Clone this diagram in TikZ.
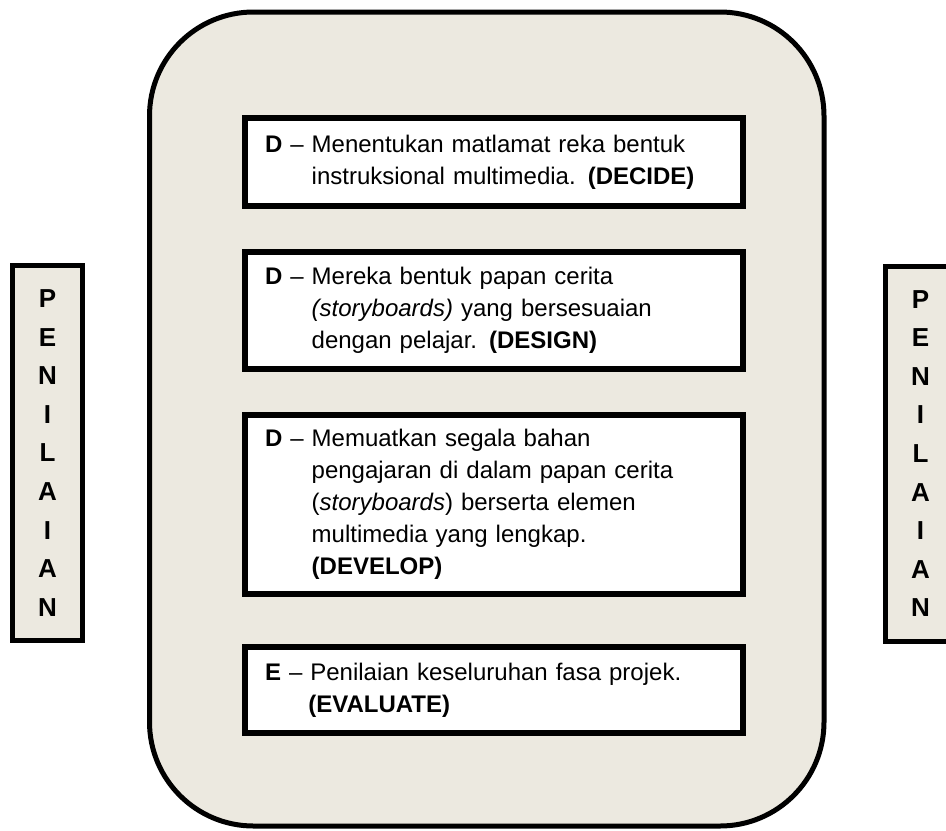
\documentclass[tikz,border=0pt]{standalone}
\usepackage{fontspec}
\setmainfont{Liberation Sans}
\definecolor{panelbeige}{HTML}{ECE9E0}

\begin{document}
\begin{tikzpicture}[x=0.5pt,y=-0.5pt,
	stepbox/.style={draw,line width=3pt,fill=white,anchor=north west,minimum width=249pt,inner xsep=10pt,text width=229pt,align=left,font=\fontsize{12}{16}\selectfont},
	sidebox/.style={draw,line width=2.5pt,fill=panelbeige,minimum width=35pt,minimum height=187.5pt,inner sep=0pt,align=center,font=\bfseries\fontsize{13}{19.3}\selectfont}]
\useasboundingbox (0,0) rectangle (946,830);
\clip (0,0) rectangle (946,830);
% big panel
\draw[line width=2.5pt,fill=panelbeige,rounded corners=52pt] (149.5,12) rectangle (824,826);
\node[stepbox,minimum height=44pt] (decide) at (242,115) {\begin{tabular}{@{}l@{ }l@{}}
	\textbf{D} -- & Menentukan matlamat reka bentuk\\
	 & instruksional multimedia. \textbf{(DECIDE)}
	\end{tabular}};
\node[stepbox,minimum height=58.5pt] (design) at (242,249) {\begin{tabular}{@{}l@{ }l@{}}
	\textbf{D} -- & Mereka bentuk papan cerita\\
	 & \textit{(storyboards)} yang bersesuaian\\
	 & dengan pelajar. \textbf{(DESIGN)}
	\end{tabular}};
\node[stepbox,minimum height=89.5pt] (develop) at (242,412) {\begin{tabular}{@{}l@{ }l@{}}
	\textbf{D} -- & Memuatkan segala bahan\\
	 & pengajaran di dalam papan cerita\\
	 & (\textit{storyboards}) berserta elemen\\
	 & multimedia yang lengkap.\\
	 & \textbf{(DEVELOP)}
	\end{tabular}};
\node[stepbox,minimum height=43pt] (evaluate) at (242,644) {\begin{tabular}{@{}l@{ }l@{}}
	\textbf{E} -- & Penilaian keseluruhan fasa projek.\\
	 & \hspace{-1pt}\textbf{(EVALUATE)}
	\end{tabular}};
% side labels
\node[sidebox] (penilaianL) at (47.5,453) {P\\E\\N\\I\\L\\A\\I\\A\\N};
\node[sidebox] (penilaianR) at (920.5,453.5) {P\\E\\N\\I\\L\\A\\I\\A\\N};
\end{tikzpicture}
\end{document}
